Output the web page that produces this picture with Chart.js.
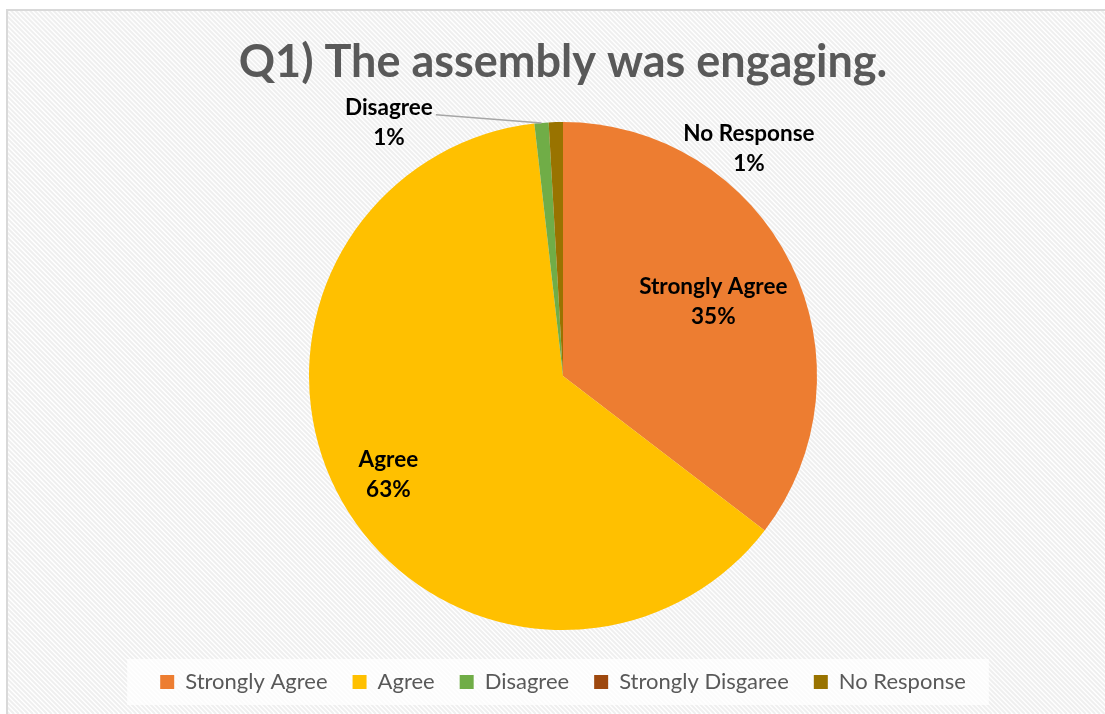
<!DOCTYPE html>
<html><head><meta charset="utf-8">
<script src="https://cdn.jsdelivr.net/npm/chart.js@4"></script>
<style>html,body{margin:0;padding:0;background:#fff;overflow:hidden}#wrap{width:1105px;height:714px}</style>
</head><body>
<div id="wrap"><canvas id="c" width="1105" height="714"></canvas></div>
<script>
// ---- data ----
const categories = ['Strongly Agree', 'Agree', 'Disagree', 'Strongly Disgaree', 'No Response'];
const values = [35.4, 62.8, 0.9, 0, 0.9];
const percentLabels = ['35%', '63%', '1%', '0%', '1%'];
const colors = ['#ED7D31', '#FFC000', '#70AD47', '#9E480E', '#997300'];
const titleText = 'Q1) The assembly was engaging.';

// ---- label layout (style) ----
const labelLayout = [
  {mode: 'inside', frac: 0.66},
  {mode: 'inside', frac: 0.79},
  {mode: 'outside', angle: -124.5, dist: 1.21, leader: true},
  {mode: 'none'},
  {mode: 'outside', angle: -50.7, dist: 1.156, leader: false}
];
const FONT = 'Lato';

const bgPlugin = {
  id: 'bg',
  beforeDraw(chart) {
    const ctx = chart.ctx, W = chart.width, H = chart.height;
    ctx.save();
    ctx.fillStyle = '#fff';
    ctx.fillRect(0, 0, W, H);
    const bx = 7, by = 10;
    ctx.beginPath();
    ctx.rect(bx, by, W - bx, H - by);
    ctx.clip();
    ctx.strokeStyle = '#efefef';
    ctx.lineWidth = 2;
    for (let k = -H; k < W + H; k += 4.7) {
      ctx.beginPath();
      ctx.moveTo(k, 0);
      ctx.lineTo(k + H, H);
      ctx.stroke();
    }
    ctx.restore();
    ctx.save();
    ctx.strokeStyle = '#d9d9d9';
    ctx.lineWidth = 2;
    ctx.beginPath();
    ctx.moveTo(bx, H + 2); ctx.lineTo(bx, by); ctx.lineTo(W + 2, by);
    ctx.stroke();
    // legend backdrop
    const lg = chart.legend;
    if (lg && lg.legendHitBoxes && lg.legendHitBoxes.length) {
      const hb = lg.legendHitBoxes;
      let minL = Infinity, maxR = -Infinity, minT = Infinity, maxB = -Infinity;
      hb.forEach(h => { minL = Math.min(minL, h.left); maxR = Math.max(maxR, h.left + h.width); minT = Math.min(minT, h.top); maxB = Math.max(maxB, h.top + h.height); });
      ctx.fillStyle = 'rgba(255,255,255,0.75)';
      const cy = (minT + maxB) / 2;
      ctx.fillRect(minL - 33, cy - 23, (maxR - minL) + 56, 46);
    }
    ctx.restore();
  }
};

const labelPlugin = {
  id: 'pielabels',
  afterDatasetsDraw(chart) {
    const ctx = chart.ctx;
    const meta = chart.getDatasetMeta(0);
    ctx.save();
    ctx.font = 'bold 22.5px ' + FONT;
    ctx.fillStyle = '#000';
    ctx.textAlign = 'center';
    ctx.textBaseline = 'middle';
    const lh = 30;
    meta.data.forEach((arc, i) => {
      const L = labelLayout[i];
      if (!L || L.mode === 'none') return;
      const p = arc.getProps(['x', 'y', 'startAngle', 'endAngle', 'outerRadius'], true);
      const mid = (p.startAngle + p.endAngle) / 2;
      let lx, ly;
      if (L.mode === 'inside') {
        lx = p.x + Math.cos(mid) * p.outerRadius * L.frac;
        ly = p.y + Math.sin(mid) * p.outerRadius * L.frac;
      } else {
        const a = L.angle * Math.PI / 180;
        lx = p.x + Math.cos(a) * p.outerRadius * L.dist;
        ly = p.y + Math.sin(a) * p.outerRadius * L.dist;
      }
      const l1 = categories[i], l2 = percentLabels[i];
      ctx.fillText(l1, lx, ly - lh / 2);
      ctx.fillText(l2, lx, ly + lh / 2);
      if (L.leader) {
        const w = ctx.measureText(l1).width;
        const sx = lx + w / 2 + 3, sy = ly - lh / 2 + 7;
        const ex = p.x + Math.cos(mid) * p.outerRadius;
        const ey = p.y + Math.sin(mid) * p.outerRadius;
        ctx.save();
        ctx.strokeStyle = '#a6a6a6';
        ctx.lineWidth = 1.5;
        ctx.beginPath();
        ctx.moveTo(sx, sy); ctx.lineTo(ex, ey);
        ctx.stroke();
        ctx.restore();
      }
    });
    ctx.restore();
  }
};

new Chart(document.getElementById('c'), {
  type: 'pie',
  data: {
    labels: categories,
    datasets: [{data: values, backgroundColor: colors, borderWidth: 0, radius: 254}]
  },
  options: {
    responsive: false,
    animation: false,
    devicePixelRatio: 1,
    layout: {padding: {left: 21, right: 0, top: 0, bottom: 11}},
    plugins: {
      title: {
        display: true, text: titleText, color: '#595959',
        font: {family: FONT, size: 45, weight: 'bold', lineHeight: 1.2},
        padding: {top: 35, bottom: 17}
      },
      legend: {
        position: 'bottom',
        labels: {
          color: '#595959', boxWidth: 14, boxHeight: 14, padding: 25,
          font: {family: FONT, size: 22}
        }
      },
      tooltip: {enabled: false}
    }
  },
  plugins: [bgPlugin, labelPlugin]
});
</script>
</body></html>
